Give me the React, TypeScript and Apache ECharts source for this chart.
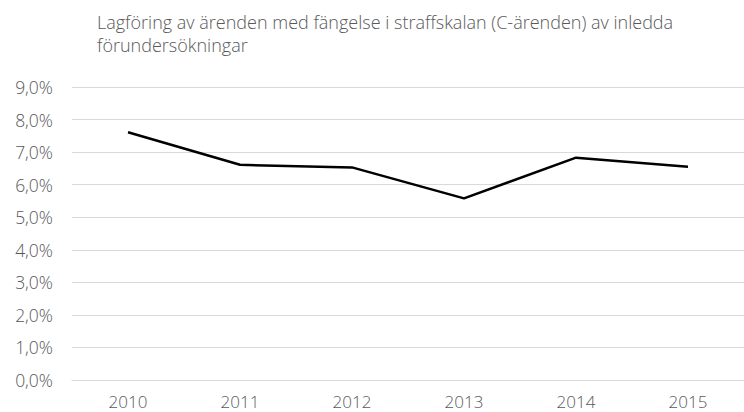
import React, { useEffect, useRef } from "react";
import * as echarts from "echarts";

const titleLines = [
  "Lagföring av ärenden med fängelse i straffskalan (C-ärenden) av inledda",
  "förundersökningar",
];
const years = ["2010", "2011", "2012", "2013", "2014", "2015"];
const shareValues = [7.61, 6.61, 6.53, 5.58, 6.83, 6.55];
const yMin = 0;
const yMax = 9;
const yStep = 1;

const FONT = "'Open Sans', 'Noto Sans', sans-serif";
const GRAY = "#595959";

export default function App() {
  const ref = useRef<HTMLDivElement>(null);
  useEffect(() => {
    if (!ref.current) return;
    const chart = echarts.init(ref.current, null, { renderer: "svg" });
    chart.setOption({
      animation: false,
      backgroundColor: "#ffffff",
      title: {
        text: titleLines.join("\n"),
        left: 92,
        top: 5,
        textStyle: {
          fontFamily: FONT,
          fontSize: 18,
          fontWeight: 300,
          color: GRAY,
          lineHeight: 23,
        },
      },
      grid: { left: 72, top: 87, width: 675, height: 293, containLabel: false },
      xAxis: {
        type: "category",
        data: years,
        boundaryGap: true,
        axisLine: { show: true, lineStyle: { color: "#d9d9d9", width: 1 } },
        axisTick: { show: false },
        axisLabel: {
          color: GRAY,
          fontFamily: FONT,
          fontSize: 17,
          fontWeight: 300,
          lineHeight: 17,
          margin: 13,
        },
      },
      yAxis: {
        type: "value",
        min: yMin,
        max: yMax,
        interval: yStep,
        axisLine: { show: false },
        axisTick: { show: false },
        splitLine: { lineStyle: { color: "#d9d9d9", width: 1 } },
        axisLabel: {
          color: GRAY,
          fontFamily: FONT,
          fontSize: 17.5,
          fontWeight: 300,
          margin: 19,
          formatter: (v: number) => v.toFixed(1).replace(".", ",") + "%",
        },
      },
      series: [
        {
          type: "line",
          data: shareValues,
          showSymbol: false,
          symbol: "none",
          lineStyle: { color: "#000000", width: 2.5 },
        },
      ],
    });
    return () => chart.dispose();
  }, []);
  return (
    <div
      ref={ref}
      style={{ position: "fixed", left: 0, top: 0, width: 744, height: 412 }}
    />
  );
}
